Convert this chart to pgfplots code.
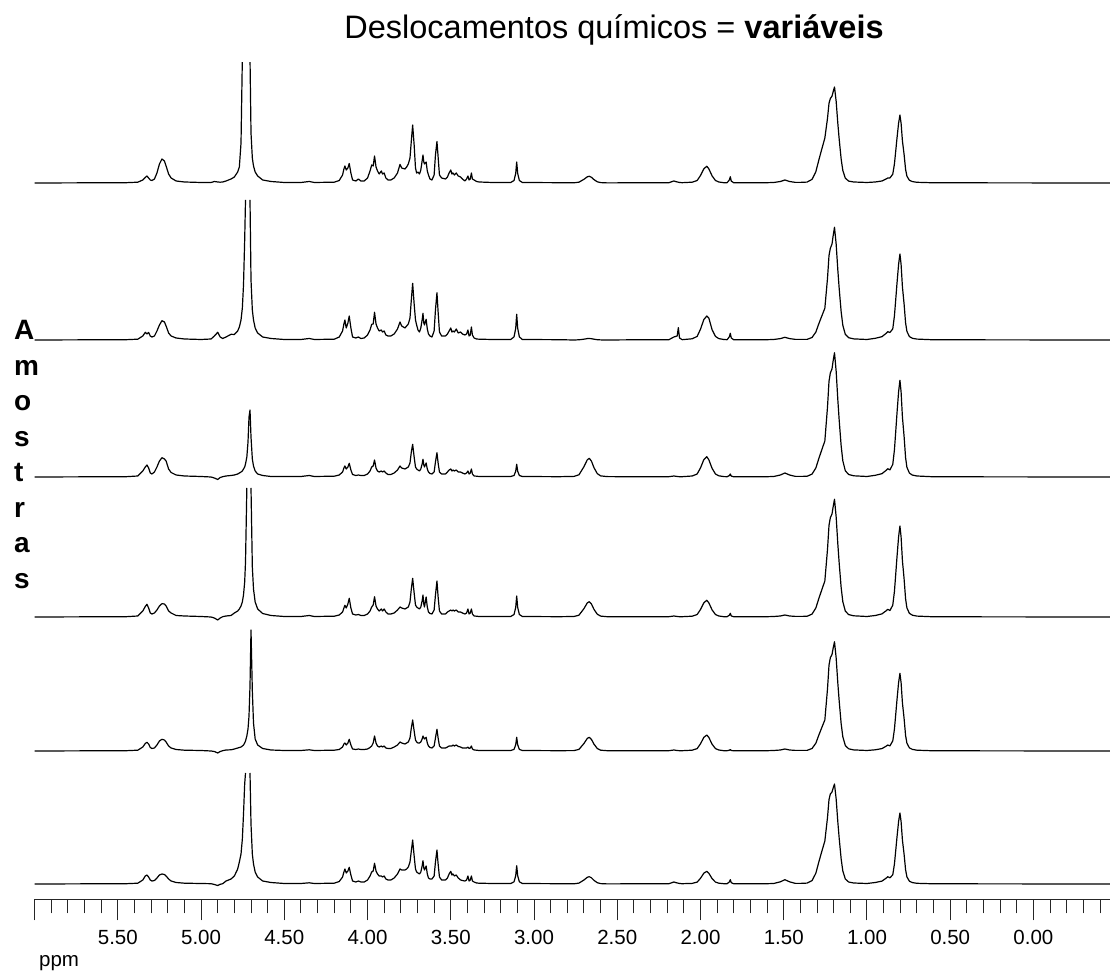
\documentclass[border=0pt]{standalone}
\usepackage{fontspec}
\setmainfont{Liberation Sans}
\usepackage{pgfplots}
\usepackage{pgfplotstable}
\pgfplotsset{compat=1.18}
\pgfplotstableread{
ppm s1 s2 s3 s4 s5 s6
6.00 0 0 0 0 0 0
5.45 0.3 0.3 0.3 0.3 0.3 0.3
5.38 0.8 0.8 1 1 0.8 0.8
5.35 3 4 6 6 4 4
5.335 5.5 7.7 10 10.5 7.5 8
5.325 7 6 12 12.7 8.7 9
5.315 5 7.5 9 9 7 7
5.305 3 4 4 4 3.5 4
5.295 2.5 3 3 3 2.5 3
5.28 4 4 5 4 3 3.5
5.265 10 9 10 7 6 6
5.25 19 15 16 11 10 9
5.235 24 19.3 19.3 13.3 11.7 10
5.22 22 18 18 13 11 9.5
5.21 17 14 16 11 9 8
5.195 9 7 8 6 5 5
5.18 5 4 4.5 4 3 3
5.15 2 2 2 1.5 1.5 1.5
5.10 1 1 1 1 0.8 0.8
5.00 0.5 0.5 0.5 0.5 0.5 0.5
4.94 0.5 1 0 0 0 0.3
4.92 1.5 4 -1 -1 -0.5 -0.5
4.90 1 7.7 -2.5 -3 -2 -1.5
4.885 0.8 3 -0.5 -1 -0.5 -0.3
4.87 1 1.5 0.3 0.3 0.3 0.3
4.85 2 3 1 1 1 3
4.82 4 5.7 1.5 1.5 1.2 5
4.80 6 5.5 2 4 2 8
4.78 11 9 3 6 3 15
4.77 16 13 4 8 3.5 22
4.76 40 20 5 11 4 30
4.752 125 32 6 15 5 45
4.745 200 55 8 22 6 70
4.738 300 100 10 35 8 100
4.733 400 140 13 55 10 111
4.725 500 nan 20 129 15 nan
4.718 400 nan 35 nan 22 nan
4.712 200 nan 60 nan 35 nan
4.706 125 140 67 nan 65 111
4.700 50 60 40 129 121 60
4.692 25 30 18 50 60 30
4.685 17 20 11 28 28 20
4.675 11 12 6 15 12 12
4.66 7 7 3 8 6 7
4.63 3 3 1.5 3.5 2.5 3
4.58 1.5 1.5 0.5 1.5 1 1.5
4.50 0.5 0.5 0.5 0.5 0.5 0.5
4.40 0.5 0.5 0.5 0.5 0.5 0.5
4.35 1.5 1.5 1.5 1.5 1.2 1.2
4.32 0.5 0.5 0.5 0.5 0.5 0.5
4.20 0.8 0.8 0.8 0.8 0.8 0.8
4.17 2.5 3 2 2 1.5 2.5
4.15 8 9 5 5 4 7
4.142 14 16 9 9 7 12
4.136 17 20 11 11.7 8 15
4.128 13 12 8 9 6 11
4.118 15 17 10 13 8 13
4.11 19.5 24 13.7 18.7 11.7 16.7
4.10 10 12 7 9 6 9
4.09 3 3 2.5 3 2 3
4.07 2 2 1.5 2 1.5 2
4.055 4 3 2 2.5 2 3
4.04 2 1.5 1.5 1.5 1.5 2
4.02 2 2 1.5 1.5 1.5 2
4.00 5 5 3 3 2 4
3.985 12 10 6 6 3.5 8
3.975 18 15.7 10 10 5 12
3.966 17 16 11 12 8 13
3.958 27 27.7 17 20.3 15 20.7
3.949 16 16 9 11 8 13
3.94 12 12 6 8 5 10
3.93 9 9 5 6 4 8
3.917 12 10 6 8 5 8
3.91 9 8 5 6 4 7
3.90 10 9 6 8 5 8
3.89 5 5 4 5 3 5
3.877 3 4 2.5 3 2.5 4
3.86 3 4 2.5 3 2.5 4
3.84 5 6 4 4 4 6
3.82 10 11 7 7 6 10
3.805 18.6 18 11 10 9 15
3.795 15 14 9 9 8 14
3.775 14 12 8 8 7 14
3.765 16 14 9 9 8 15
3.755 19 16 10 10 9 17
3.745 25 22 14 15 13 22
3.737 42 40 25 28 23 33
3.729 58 56.7 32.7 38.7 31 44
3.72 38 36 20 24 20 28
3.712 15 20 10 12 11 15
3.705 10 15 8 10 9 12
3.697 11 10 7 9 8 11
3.688 9 8 6 8 8 10
3.68 13 12 8 10 9 12
3.672 22 20 13 16 12 18
3.667 28 26.7 17.7 22 15 23.3
3.662 21 17 12 13 13 16
3.658 19 15 10 10 12 14
3.653 20 18 12 15 13 16
3.648 21 20.7 14 20 13.7 18
3.641 12 11 8 10 8 10
3.634 8 6 5 5 5 6
3.625 4 4 3.5 3.5 3.5 5
3.613 3 3 3 3 3 5
3.60 8 9 5 7 5 8
3.592 28 30 15 22 13 22
3.583 41.5 47.3 24.3 36 21.7 34
3.576 26 28 14 20 13 20
3.568 8 8 5 6 5 7
3.555 5 4 3 3 3 4
3.532 4 4 3 3 3 4
3.52 6 6 5 5 4 6
3.51 10 9 7 6 5 10
3.50 13 12 8 7 5 12.7
3.493 9 8 6 6 5 9
3.487 10 9 7 7 6 10
3.478 8 8 6 6 5 8
3.467 10 11 7 7 6 9
3.455 7 7 5 5 4.5 6
3.441 6 8 5 5 4 4
3.43 4 6 4 4 3 3.5
3.415 2 5 3 3 3 3
3.405 4 6 4 4 3 4
3.397 7 10 6 8 4 8
3.39 3 4 3 3 2.5 3
3.383 4 5 4 4 3 4
3.376 10 13 8 8 5 8
3.37 4 5 3 3 2 3
3.36 3 2 1 1 1 2
3.345 1.5 1 0.8 0.8 0.8 1
3.33 1 0.8 0.5 0.5 0.5 0.8
3.25 0.5 0.5 0.5 0.5 0.5 0.5
3.14 0.5 0.5 0.5 0.5 0.5 0.5
3.12 2.5 3.1 1.5 2.5 1.6 2.2
3.11 9.5 11.6 5.7 9.5 6.2 8.2
3.104 21 25.7 12.7 21 13.7 18.3
3.098 9.5 11.6 5.7 9.5 6.2 8.2
3.088 2.5 3.1 1.5 2.5 1.6 2.2
3.07 0.5 0.5 0.5 0.5 0.5 0.5
2.85 0.3 0.3 0.3 0.3 0.3 0.3
2.76 0.2 0 0.6 0.5 0.4 0.2
2.73 0.8 0.2 2.2 1.8 1.6 0.9
2.70 3.7 0.8 10.3 8.4 7.5 4
2.68 6.2 1.4 17.2 14.1 12.6 6.7
2.668 6.7 1.5 18.7 15.3 13.7 7.3
2.655 5.7 1.3 15.9 13 11.6 6.2
2.64 3.4 0.8 9.4 7.7 6.9 3.7
2.62 1.2 0.3 3.4 2.8 2.5 1.3
2.60 0.4 0.1 1.1 0.9 0.8 0.4
2.56 0.1 0 0.4 0.3 0.3 0.1
2.40 0.2 0.2 0.2 0.2 0.2 0.2
2.19 0.3 0.3 0.3 0.3 0.3 0.3
2.16 2 3 1 1 1 2
2.14 1 4 0.5 0.5 0.5 1
2.133 0.8 12.3 0.4 0.4 0.4 0.8
2.126 0.5 2 0.3 0.3 0.3 0.5
2.11 0.3 0.3 0.3 0.3 0.3 0.3
2.05 0.8 1.2 1 0.8 0.8 0.6
2.02 2.5 3.6 3 2.5 2.4 1.9
2.00 7.5 10.8 9.1 7.5 7.2 5.7
1.98 14.2 20.4 17.3 14.2 13.6 10.8
1.962 16.7 24 20.3 16.7 16 12.7
1.95 14.2 22 17.3 14.2 13.6 10.8
1.93 7 10.1 8.5 7 6.7 5.3
1.91 2.5 3.6 3 2.5 2.4 1.9
1.89 1 1.4 1.2 1 1 0.8
1.86 0.3 0.5 0.4 0.3 0.3 0.3
1.84 0.3 0.3 0.3 0.3 0.3 0.3
1.826 3.2 3.4 1.5 1.9 0.8 2.2
1.821 6.3 6.7 3 3.7 1.5 4.3
1.815 1.9 2 0.9 1.1 0.5 1.3
1.80 0.2 0.2 0.2 0.2 0.2 0.2
1.60 0.3 0.3 0.3 0.3 0.3 0.3
1.56 0.5 0.5 0.5 0.5 0.5 0.5
1.52 1.5 1.4 2 1 1 2.2
1.493 3 2.7 4 2 2 4.3
1.465 1.5 1.4 2 1 1 2.2
1.43 0.6 0.6 0.6 0.6 0.6 0.6
1.40 0.6 0.6 0.6 0.6 0.6 0.6
1.36 0.9 0.6 0.7 0.7 0.6 0.9
1.33 3.6 2.5 2.9 2.9 2.5 3.4
1.307 11.3 7.9 9 9 7.8 10.8
1.29 22.4 15.9 18 18 15.5 21.5
1.274 32.3 22.8 25.9 25.9 22.3 31
1.253 44.9 31.7 36 36 31 43
1.237 64.7 61.7 70 67.7 62.2 66.5
1.228 79.7 84.5 95.8 91.7 85.8 84.4
1.22 84.5 91.7 104 99.3 93.3 90
1.21 86.8 95.9 108.1 103 96.5 92
1.203 91.3 104.3 116.2 110.3 102.9 96
1.195 96 112.7 124.3 117.7 109.3 100
1.185 81.6 95.8 105.7 100 92.9 85
1.175 59.5 69.9 77.1 73 67.8 62
1.167 44.1 51.8 57.2 54.1 50.3 46
1.155 24 28.2 31.1 29.4 27.3 25
1.145 12.5 14.7 16.2 15.3 14.2 13
1.13 4.8 5.6 6.2 5.9 5.5 5
1.11 1.9 2.3 2.5 2.4 2.2 2
1.08 1 1.1 1.2 1.2 1.1 1
1.00 0.5 0.5 0.5 0.5 0.5 0.5
0.95 1 1.7 1.7 1.5 1.2 1.5
0.91 2 3.3 3.3 3.1 2.4 2.9
0.885 4 6.6 6.6 6.2 4.8 5.8
0.875 5 8.3 8.3 7.7 6 7.3
0.862 5 7.5 7.1 6.5 5.1 6.2
0.845 8.8 11.1 12.6 11.8 10.1 9.2
0.835 19 24.1 27.1 25.5 21.8 19.9
0.828 30.6 38.7 43.5 41 35 32
0.82 44.2 55.8 62.9 59.2 50.5 46.2
0.81 59.8 75.6 85.1 80.1 68.4 62.5
0.802 68 86 96.7 91 77.7 71
0.795 59.8 75.6 85.1 80.1 68.4 62.5
0.787 42.2 53.2 60 56.4 48.2 44
0.777 28.6 36 40.6 38.2 32.6 29.8
0.768 13.6 17.2 19.3 18.2 15.5 14.2
0.76 6.8 8.6 9.7 9.1 7.8 7.1
0.745 2.7 3.4 3.9 3.6 3.1 2.8
0.727 1.4 1.7 1.9 1.8 1.6 1.4
0.70 0.7 0.9 1 0.9 0.8 0.7
0.60 0.2 0.2 0.2 0.2 0.2 0.2
-0.46 0 0 0 0 0 0
}\spec

\begin{document}
\begin{tikzpicture}
\path[use as bounding box] (0,0) rectangle (1110pt,971pt);
\begin{axis}[
  at={(34.6pt,71.5pt)}, anchor=south west,
  scale only axis, width=1075.4pt, height=836.5pt,
  xmin=-0.46, xmax=6.0, x dir=reverse,
  ymin=71.5, ymax=908,
  axis x line*=bottom, axis y line=none,
  x axis line style={line width=1pt, black!85},
  xtick={0,0.5,1,1.5,2,2.5,3,3.5,4,4.5,5,5.5,6},
  xticklabels={0.00,0.50,1.00,1.50,2.00,2.50,3.00,3.50,4.00,4.50,5.00,5.50,{}},
  minor xtick={-0.4,-0.3,-0.2,-0.1,0.1,0.2,0.3,0.4,0.6,0.7,0.8,0.9,1.1,1.2,1.3,1.4,1.6,1.7,1.8,1.9,2.1,2.2,2.3,2.4,2.6,2.7,2.8,2.9,3.1,3.2,3.3,3.4,3.6,3.7,3.8,3.9,4.1,4.2,4.3,4.4,4.6,4.7,4.8,4.9,5.1,5.2,5.3,5.4,5.6,5.7,5.8,5.9},
  tick align=outside,
  major tick length=21pt, minor tick length=14pt,
  every tick/.style={line width=1pt, black!85},
  xticklabel style={font=\fontsize{20.5}{24}\selectfont, inner sep=0pt, anchor=north, yshift=-9pt},
  unbounded coords=jump,
  clip=true,
  spec/.style={black, solid, line width=1.2pt, line join=round, no markers},
]
\addplot[spec] table[x=ppm, y expr=\thisrow{s1}+788] {\spec};
\addplot[spec] table[x=ppm, y expr=\thisrow{s2}+631] {\spec};
\addplot[spec] table[x=ppm, y expr=\thisrow{s3}+494] {\spec};
\addplot[spec] table[x=ppm, y expr=\thisrow{s4}+354] {\spec};
\addplot[spec] table[x=ppm, y expr=\thisrow{s5}+220] {\spec};
\addplot[spec] table[x=ppm, y expr=\thisrow{s6}+87] {\spec};
\end{axis}
\node[anchor=base, inner sep=0pt, font=\fontsize{32.5}{38}\selectfont] at (614pt,932pt) {Deslocamentos químicos = \textbf{variáveis}};
\node[anchor=base west, inner sep=0pt, font=\fontsize{20.5}{24}\selectfont] at (39pt,4.5pt) {ppm};
\foreach \ch [count=\i from 0] in {A,m,o,s,t,r,a,s}{
  \node[anchor=base west, inner sep=0pt, font=\bfseries\fontsize{28}{34}\selectfont] at (14pt,{631pt-\i*35.5pt}) {\ch};
}
\end{tikzpicture}
\end{document}
